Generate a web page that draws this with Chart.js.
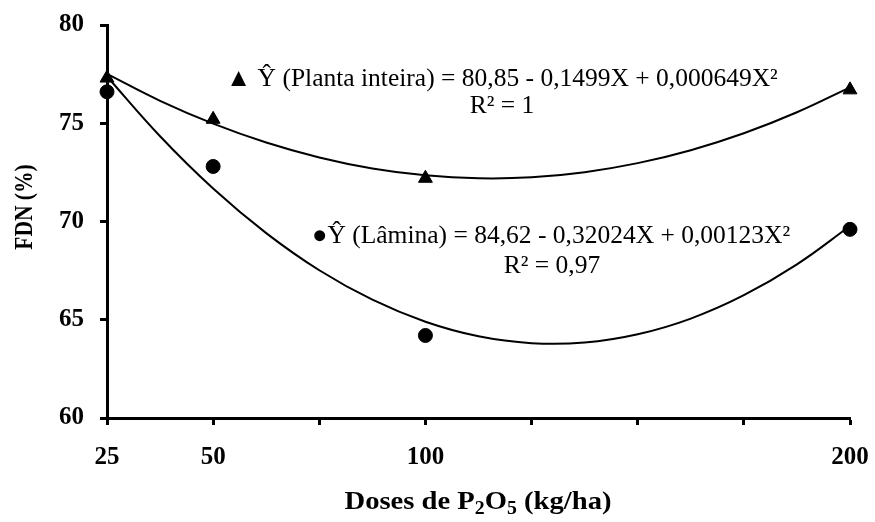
<!DOCTYPE html>
<html>
<head>
<meta charset="utf-8">
<script src="https://cdn.jsdelivr.net/npm/chart.js@4.4.1/dist/chart.umd.min.js"></script>
<style>
  html, body { margin: 0; padding: 0; background: #fff; }
  #wrap { width: 875px; height: 522px; }
</style>
</head>
<body>
<div id="wrap"><canvas id="c" width="875" height="522"></canvas></div>
<script>
// Doses de P2O5 (kg/ha) and measured FDN (%)
const doses = [25, 50, 100, 200];
const plantaInteira = [77.3, 75.2, 72.2, 76.7];
const lamina = [76.6, 72.8, 64.2, 69.6];

// Fitted regression curves, sampled along the dose range
const fitDoses = [25, 37.5, 50, 62.5, 75, 87.5, 100, 112.5, 125, 137.5, 150, 162.5, 175, 187.5, 200];
const fitPlanta = [77.51, 76.14, 74.98, 74.02, 73.26, 72.70, 72.35, 72.20, 72.25, 72.51, 72.97, 73.63, 74.49, 75.56, 76.83];
const fitLamina = [77.38, 74.34, 71.68, 69.41, 67.52, 66.02, 64.90, 64.16, 63.81, 63.84, 64.26, 65.06, 66.25, 67.82, 69.77];

// Axis ticks
const xTickLabels = [25, 50, 100, 200];
const yMin = 60, yMax = 80, yStep = 5;

const SERIF = '"Liberation Serif", "Times New Roman", serif';

const pts = (xs, ys) => xs.map((x, i) => ({ x: x, y: ys[i] }));

const textPlugin = {
  id: 'labels',
  afterDraw(chart) {
    const ctx = chart.ctx;
    ctx.save();
    ctx.fillStyle = '#000';
    ctx.textBaseline = 'middle';

    // Y axis title
    ctx.save();
    ctx.translate(26, 207);
    ctx.rotate(-Math.PI / 2);
    ctx.scale(0.86, 1);
    ctx.textAlign = 'center';
    ctx.font = 'bold 25px ' + SERIF;
    ctx.fillText('FDN (%)', 0, 0);
    ctx.restore();

    // X axis title with subscripts
    const parts = [
      ['Doses de P', 0], ['2', 1], ['O', 0], ['5', 1], [' (kg/ha)', 0]
    ];
    const big = 'bold 26px ' + SERIF, small = 'bold 18px ' + SERIF;
    let total = 0;
    parts.forEach(p => { ctx.font = p[1] ? small : big; total += ctx.measureText(p[0]).width; });
    const sx = 267 / total;
    ctx.save();
    ctx.translate(478 - 267 / 2, 502);
    ctx.scale(sx, 1);
    ctx.textAlign = 'left';
    let x = 0;
    parts.forEach(p => {
      ctx.font = p[1] ? small : big;
      ctx.fillText(p[0], x, p[1] ? 7 : 0);
      x += ctx.measureText(p[0]).width;
    });
    ctx.restore();

    // Regression equations
    ctx.font = '25.5px ' + SERIF;
    ctx.textAlign = 'left';
    ctx.fillText('\u25B2 \u0176 (Planta inteira) = 80,85 - 0,1499X + 0,000649X\u00B2', 226, 79);
    ctx.textAlign = 'center';
    ctx.fillText('R\u00B2 = 1', 502, 106);
    ctx.textAlign = 'left';
    ctx.fillText('\u25CF\u0176 (L\u00E2mina) = 84,62 - 0,32024X + 0,00123X\u00B2', 312, 236);
    ctx.textAlign = 'center';
    ctx.fillText('R\u00B2 = 0,97', 552, 266);
    ctx.restore();
  }
};

new Chart(document.getElementById('c'), {
  type: 'scatter',
  data: {
    datasets: [
      {
        label: 'Planta inteira (ajuste)',
        type: 'line',
        data: pts(fitDoses, fitPlanta),
        borderColor: '#000', borderWidth: 2, pointRadius: 0,
        tension: 0.4, fill: false
      },
      {
        label: 'Lâmina (ajuste)',
        type: 'line',
        data: pts(fitDoses, fitLamina),
        borderColor: '#000', borderWidth: 2, pointRadius: 0,
        tension: 0.4, fill: false
      },
      {
        label: 'Planta inteira',
        data: pts(doses, plantaInteira),
        pointStyle: 'triangle', pointRadius: 8,
        backgroundColor: '#000', borderColor: '#000', borderWidth: 1
      },
      {
        label: 'Lâmina',
        data: pts(doses, lamina),
        pointStyle: 'circle', pointRadius: 7,
        backgroundColor: '#000', borderColor: '#000', borderWidth: 1
      }
    ]
  },
  options: {
    responsive: false,
    animation: false,
    clip: false,
    layout: { padding: { top: 25, right: 25, left: 0, bottom: 0 } },
    plugins: { legend: { display: false }, tooltip: { enabled: false } },
    scales: {
      x: {
        type: 'linear', min: 25, max: 200,
        afterBuildTicks(s) {
          const t = [];
          for (let v = 25; v <= 200; v += 25) t.push({ value: v });
          s.ticks = t;
        },
        afterFit(s) { s.height = 104; s.paddingLeft = 0; s.paddingRight = 0; },
        ticks: {
          autoSkip: false, maxRotation: 0, padding: 18, color: '#000',
          font: { family: SERIF, size: 25, weight: 'bold' },
          callback: v => xTickLabels.includes(v) ? String(v) : ''
        },
        grid: { drawOnChartArea: false, drawTicks: true, tickLength: 7, tickWidth: 3, tickColor: '#000' },
        border: { display: true, color: '#000', width: 3 }
      },
      y: {
        min: yMin, max: yMax,
        afterFit(s) { s.width = 107; s.paddingTop = 0; s.paddingBottom = 0; },
        ticks: {
          stepSize: yStep, padding: 16, color: '#000',
          font: { family: SERIF, size: 25, weight: 'bold' }
        },
        grid: { drawOnChartArea: false, drawTicks: true, tickLength: 7, tickWidth: 3, tickColor: '#000' },
        border: { display: true, color: '#000', width: 3 }
      }
    }
  },
  plugins: [textPlugin]
});
</script>
</body>
</html>
